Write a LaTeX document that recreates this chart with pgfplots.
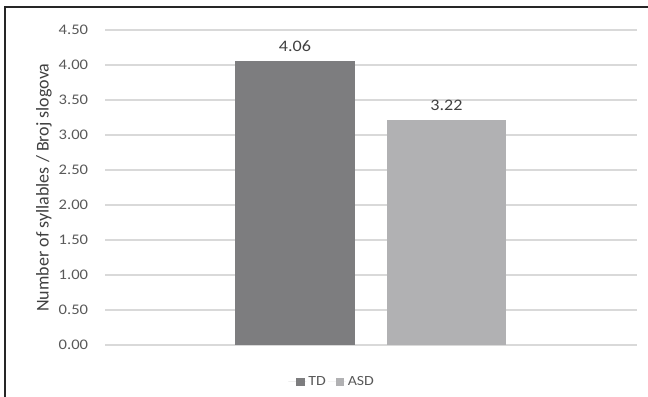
\documentclass[border=0pt]{standalone}
\usepackage{fontspec}
\setmainfont[FakeStretch=1.13]{Carlito}
\newfontfamily\labelfont{Carlito}
\usepackage{pgfplots}
\pgfplotsset{compat=1.18}
\definecolor{tdgray}{HTML}{7D7D7F}
\definecolor{asdgray}{HTML}{B1B1B3}
\definecolor{gridgray}{HTML}{D9D9D9}
\definecolor{ticktext}{HTML}{595959}
\definecolor{labeltext}{HTML}{404040}
\begin{document}
\begin{tikzpicture}[x=1pt,y=1pt]
\useasboundingbox (0,0) rectangle (486,297);
\draw[black!85, line width=1.1pt] (3.75,-3) rectangle (490,291.75);
\begin{axis}[
  at={(78.75pt,38.25pt)}, anchor=south west,
  scale only axis, width=399pt, height=236.25pt,
  xmin=0, xmax=532, ymin=0, ymax=4.5,
  ytick distance=0.5,
  xtick=\empty,
  axis line style={draw=none},
  major tick length=0pt,
  ymajorgrids, grid style={gridgray, line width=0.8pt},
  /pgf/number format/fixed,
  /pgf/number format/fixed zerofill,
  /pgf/number format/precision=2,
  /pgf/number format/assume math mode=true,
  yticklabel style={inner sep=0pt, xshift=-12.5pt, text=ticktext, font=\fontsize{11}{12}\selectfont},
  ylabel={Number of syllables / Broj slogova},
  ylabel style={at={(axis description cs:-0.115,0.5)}, anchor=center, text=labeltext, font=\labelfont\fontsize{13.5}{14}\selectfont},
  nodes near coords,
  nodes near coords style={text=labeltext, font=\fontsize{12}{13}\selectfont},
  every node near coord/.append style={yshift=3.5pt},
  legend style={at={(0.427,-0.117)}, anchor=center, legend columns=-1, draw=none, fill=none,
    font=\fontsize{10.5}{11}\selectfont, text=ticktext,
    nodes={inner sep=1.5pt},
    /tikz/every odd column/.style={column sep=0pt},
    /tikz/every even column/.style={column sep=0pt}},
  legend image code/.code={\fill[#1] (0pt,-3.2pt) rectangle (6.4pt,3.2pt); \path (-6pt,0pt) -- (7.5pt,0pt);},
  clip=false,
]
\addplot[ybar, bar width=120, bar shift=0pt, fill=tdgray, draw=none] coordinates {(190,4.06)};
\addlegendentry{TD}
\addplot[ybar, bar width=119, bar shift=0pt, fill=asdgray, draw=none] coordinates {(341.5,3.22)};
\addlegendentry{ASD}
\end{axis}
\end{tikzpicture}
\end{document}
